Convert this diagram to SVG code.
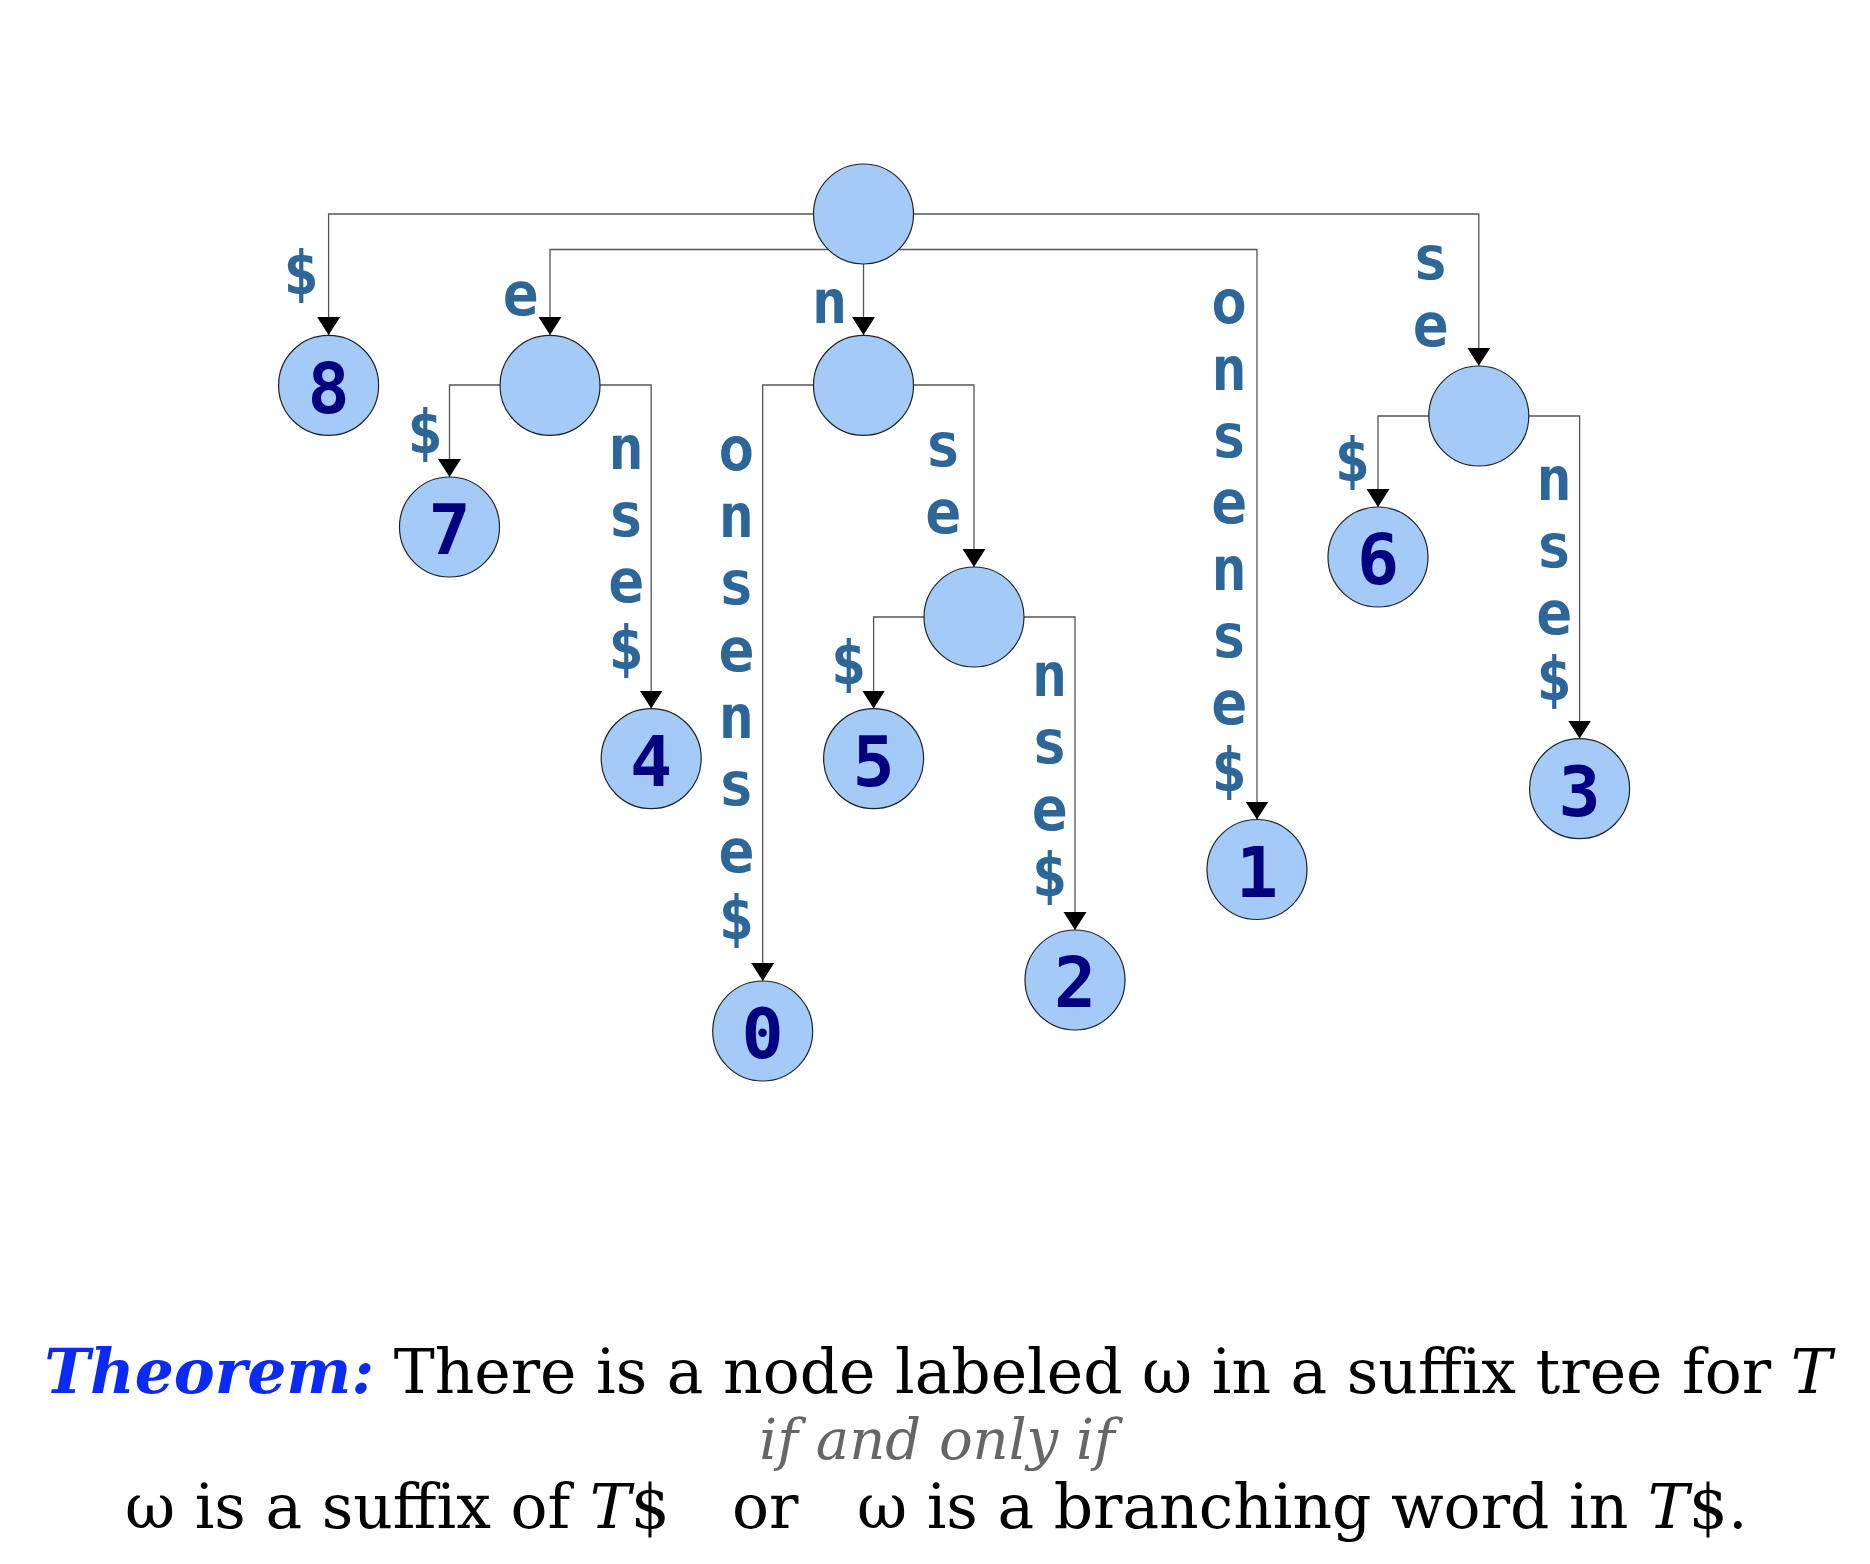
<svg xmlns="http://www.w3.org/2000/svg" width="1870" height="1564" viewBox="0 0 1870 1564">
<defs>
<marker id="arr" markerUnits="userSpaceOnUse" markerWidth="19" markerHeight="24" refX="18" refY="11.5" orient="auto">
<path d="M0,0 L18,11.5 L0,23 z" fill="#000"/>
</marker>
<style>
.e{fill:none;stroke:#555;stroke-width:1.3;marker-end:url(#arr)}
.n{fill:#a4cbf7;stroke:#222;stroke-width:1.2}
.num{font-family:"DejaVu Sans Mono",monospace;font-weight:bold;font-size:70px;fill:#000080;text-anchor:middle}
.lab{font-family:"DejaVu Sans Mono",monospace;font-weight:bold;font-size:60px;fill:#2d6699;text-anchor:middle}
.t{font-family:"DejaVu Serif",serif;font-size:61.5px;fill:#000}
.iff{font-family:"DejaVu Serif",serif;font-size:56px;font-style:italic;fill:#666;text-anchor:middle}
</style>
</defs>
<rect width="1870" height="1564" fill="#fff"/>
<g id="connectors">
<path class="e" d="M813.5,214 H328.6 V335"/>
<path class="e" d="M828,249.5 H550 V335"/>
<path class="e" d="M863.5,264 V335"/>
<path class="e" d="M899,249.5 H1257 V819.5"/>
<path class="e" d="M913.5,214 H1478.8 V365.8"/>
<path class="e" d="M500,385 H449.5 V477"/>
<path class="e" d="M600,385 H651.2 V708.5"/>
<path class="e" d="M813.5,385 H762.7 V981"/>
<path class="e" d="M913.5,385 H974 V567"/>
<path class="e" d="M924,617 H873.6 V708.5"/>
<path class="e" d="M1024,617 H1075 V930"/>
<path class="e" d="M1428.8,416 H1378 V507"/>
<path class="e" d="M1528.8,416 H1579.6 V738.6"/>
</g>
<g id="edge-labels" class="lab">
<text x="301" y="294">$</text>
<text x="520.6" y="315">e</text>
<text x="829.5" y="322.6">n</text>
<text x="1229"><tspan x="1229" y="323">o</tspan><tspan x="1229" y="389.8">n</tspan><tspan x="1229" y="456.6">s</tspan><tspan x="1229" y="523.4">e</tspan><tspan x="1229" y="590.2">n</tspan><tspan x="1229" y="657">s</tspan><tspan x="1229" y="723.8">e</tspan><tspan x="1229" y="790.6">$</tspan></text>
<text x="1430.5"><tspan x="1430.5" y="279">s</tspan><tspan x="1430.5" y="346">e</tspan></text>
<text x="425" y="453">$</text>
<text x="626"><tspan x="626" y="469">n</tspan><tspan x="626" y="535.7">s</tspan><tspan x="626" y="602.4">e</tspan><tspan x="626" y="669">$</tspan></text>
<text x="736.4"><tspan x="736.4" y="470">o</tspan><tspan x="736.4" y="537">n</tspan><tspan x="736.4" y="604">s</tspan><tspan x="736.4" y="671">e</tspan><tspan x="736.4" y="738">n</tspan><tspan x="736.4" y="805">s</tspan><tspan x="736.4" y="872">e</tspan><tspan x="736.4" y="939">$</tspan></text>
<text x="943"><tspan x="943" y="466">s</tspan><tspan x="943" y="533">e</tspan></text>
<text x="848.5" y="684">$</text>
<text x="1049.5"><tspan x="1049.5" y="696">n</tspan><tspan x="1049.5" y="763">s</tspan><tspan x="1049.5" y="830">e</tspan><tspan x="1049.5" y="896">$</tspan></text>
<text x="1352.4" y="481">$</text>
<text x="1554"><tspan x="1554" y="499.5">n</tspan><tspan x="1554" y="566.5">s</tspan><tspan x="1554" y="633.5">e</tspan><tspan x="1554" y="700">$</tspan></text>
</g>
<g id="node-root"><circle class="n" cx="863.5" cy="214" r="50"/></g>
<g id="node-8"><circle class="n" cx="328.6" cy="385.4" r="50"/><text class="num" x="328.6" y="412.5">8</text></g>
<g id="node-e"><circle class="n" cx="550" cy="385.4" r="50"/></g>
<g id="node-n"><circle class="n" cx="863.5" cy="385.4" r="50"/></g>
<g id="node-7"><circle class="n" cx="449.5" cy="527" r="50"/><text class="num" x="449.5" y="554">7</text></g>
<g id="node-4"><circle class="n" cx="651.2" cy="758.6" r="50"/><text class="num" x="651.2" y="785.6">4</text></g>
<g id="node-0"><circle class="n" cx="762.7" cy="1031" r="50"/><text class="num" x="762.7" y="1058">0</text></g>
<g id="node-sn"><circle class="n" cx="974" cy="617" r="50"/></g>
<g id="node-5"><circle class="n" cx="873.6" cy="758.6" r="50"/><text class="num" x="873.6" y="785.6">5</text></g>
<g id="node-2"><circle class="n" cx="1075" cy="980" r="50"/><text class="num" x="1075" y="1007">2</text></g>
<g id="node-1"><circle class="n" cx="1257" cy="869.5" r="50"/><text class="num" x="1257" y="896.5">1</text></g>
<g id="node-se"><circle class="n" cx="1478.8" cy="416" r="50"/></g>
<g id="node-6"><circle class="n" cx="1378" cy="557" r="50"/><text class="num" x="1378" y="584">6</text></g>
<g id="node-3"><circle class="n" cx="1579.6" cy="788.6" r="50"/><text class="num" x="1579.6" y="815.6">3</text></g>
<g id="theorem">
<text class="t" x="938" y="1393" text-anchor="middle"><tspan font-weight="bold" font-style="italic" fill="#0a2af5">Theorem:</tspan> There is a node labeled ω in a suffix tree for <tspan font-style="italic">T</tspan></text>
<text class="iff" x="937" y="1459">if and only if</text>
<text class="t" y="1528"><tspan x="125">ω is a suffix of </tspan><tspan font-style="italic">T</tspan><tspan>$</tspan><tspan x="732">or</tspan><tspan x="857">ω is a branching word in </tspan><tspan font-style="italic">T</tspan><tspan>$.</tspan></text>
</g>
</svg>
